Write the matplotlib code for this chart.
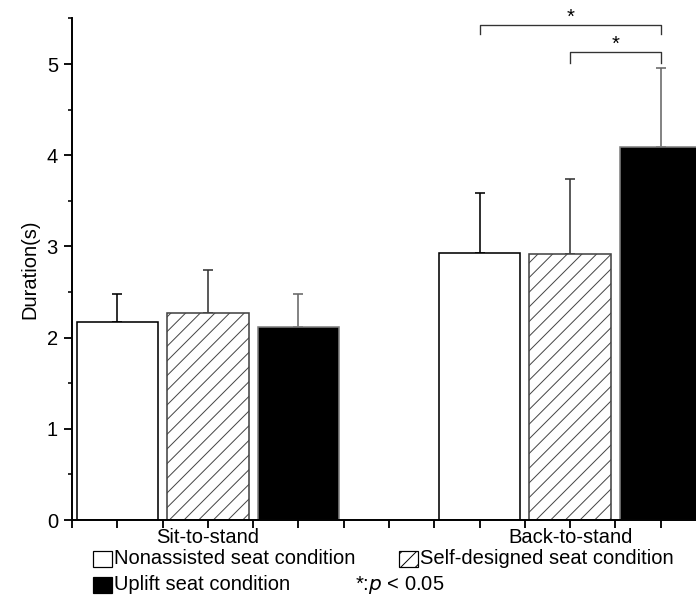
import matplotlib
matplotlib.use("Agg")
import matplotlib.pyplot as plt
from matplotlib.patches import Rectangle
import numpy as np

# ---- data ----
groups = ["Sit-to-stand", "Back-to-stand"]
conditions = ["Nonassisted seat condition", "Self-designed seat condition", "Uplift seat condition"]
means_nonassisted = [2.17, 2.93]
means_selfdesigned = [2.27, 2.92]
means_uplift = [2.12, 4.09]
sd_nonassisted = [0.31, 0.66]
sd_selfdesigned = [0.47, 0.82]
sd_uplift = [0.36, 0.87]
y_ticks = [0, 1, 2, 3, 4, 5]
sig_note = "*:$\\it{p}$ < 0.05"

DPI = 88
W, H = 696, 596
plt.rcParams['font.family'] = ['Liberation Sans', 'DejaVu Sans']
plt.rcParams['hatch.linewidth'] = 0.8
plt.rcParams['hatch.color'] = '#333333'
FS = 16.5

fig = plt.figure(figsize=(W / DPI, H / DPI), dpi=DPI)
x0, x1 = 72, 706
y0, y1 = 520, 18.4
ax = fig.add_axes([x0 / W, 1 - y0 / H, (x1 - x0) / W, (y0 - y1) / H])

group_centers = np.array([2.0, 6.0])
bw = 0.9
series = [means_nonassisted, means_selfdesigned, means_uplift]
sds = [sd_nonassisted, sd_selfdesigned, sd_uplift]
faces = ['white', 'white', 'black']
edges = ['black', '#444444', '#808080']
hatches = [None, '//', None]
ecols = ['black', '#333333', '#666666']
offsets = [-1, 0, 1]
lw = 1.3
for vals, sd, fc, ec, ht, erc, off in zip(series, sds, faces, edges, hatches, ecols, offsets):
    xs = group_centers + off
    ax.bar(xs, vals, width=bw, color=fc, edgecolor=ec, hatch=ht, linewidth=lw, zorder=2)
    ax.errorbar(xs, vals, yerr=[np.zeros(len(sd)), sd], fmt='none', ecolor=erc,
                elinewidth=1.3, capsize=4.2, capthick=1.3, zorder=1)

ax.set_xlim(0.5, 7.5)
ax.set_ylim(0, 5.5)
ax.set_yticks(y_ticks)
ax.set_yticks(np.arange(0, 5.51, 0.5), minor=True)
xt = np.arange(0.5, 7.51, 0.5)
ax.set_xticks(xt)
ax.set_xticklabels([groups[0] if abs(v - 2) < 1e-9 else (groups[1] if abs(v - 6) < 1e-9 else '') for v in xt])
ax.tick_params(axis='both', which='major', length=6.5, width=1.5, labelsize=FS, direction='out')
ax.tick_params(axis='y', which='minor', length=3, width=1.3)
ax.tick_params(axis='y', which='major', pad=5)
ax.tick_params(axis='x', which='major', pad=0)
for s in ['top', 'right']:
    ax.spines[s].set_visible(False)
for s in ['left', 'bottom']:
    ax.spines[s].set_linewidth(1.6)
ax.set_ylabel("Duration(s)", fontsize=FS, labelpad=6)

# significance brackets
bk = '#333333'
ax.plot([5, 5, 7, 7], [5.33, 5.43, 5.43, 5.33], color=bk, lw=1.1, clip_on=False)
ax.plot([6, 6, 7, 7], [5.01, 5.13, 5.13, 5.01], color=bk, lw=1.1, clip_on=False)
ax.text(6.0, 5.45, "*", ha='center', va='baseline', fontsize=FS, clip_on=False)
ax.text(6.5, 5.16, "*", ha='center', va='baseline', fontsize=FS, clip_on=False)

# legend (manual)
def fig_box(px, py, w, h, fc, ht=None):
    r = Rectangle((px / W, 1 - (py + h) / H), w / W, h / H, transform=fig.transFigure,
                  facecolor=fc, edgecolor='black', hatch=ht, linewidth=1.0)
    fig.patches.append(r)

fig_box(93, 551, 19, 16, 'white')
fig.text(114 / W, 1 - 559 / H, conditions[0], fontsize=FS, va='center', ha='left')
fig_box(399, 551, 19, 16, 'white', '//')
fig.text(420 / W, 1 - 559 / H, conditions[1], fontsize=FS, va='center', ha='left')
fig_box(93, 577, 19, 16, 'black')
fig.text(114 / W, 1 - 585 / H, conditions[2], fontsize=FS, va='center', ha='left')
fig.text(355 / W, 1 - 585 / H, sig_note, fontsize=FS, va='center', ha='left')

fig.savefig("out.png", dpi=DPI)
